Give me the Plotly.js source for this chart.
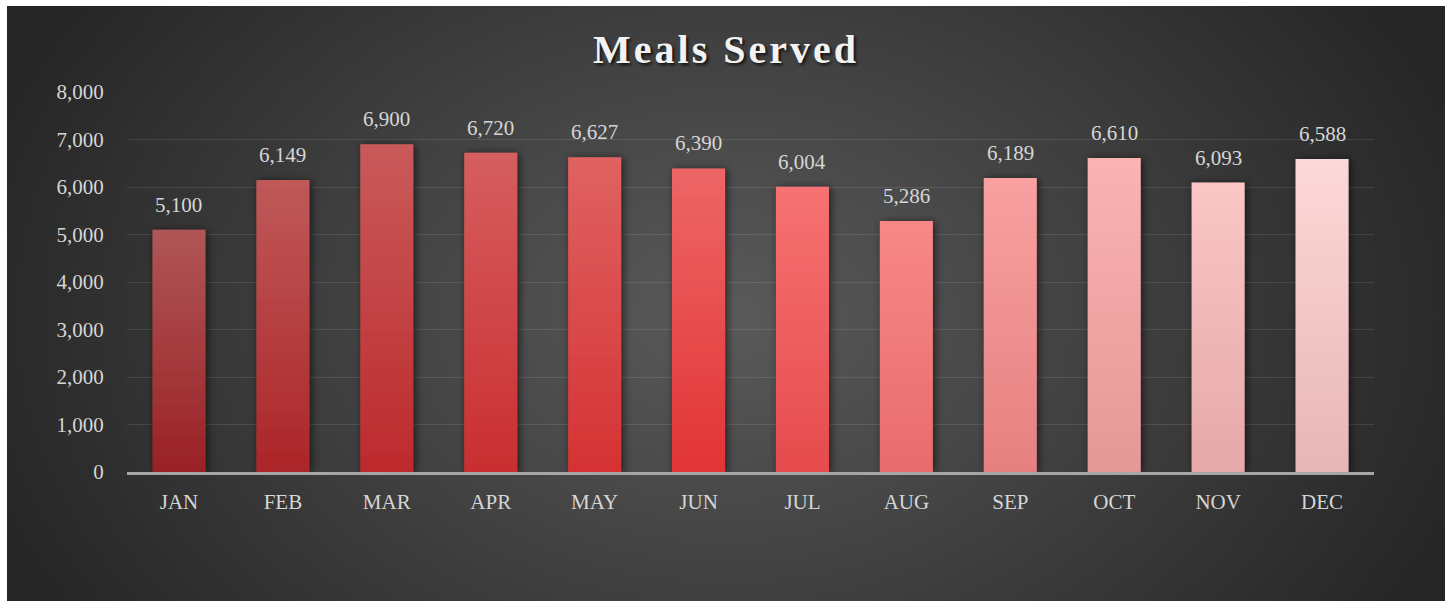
<!DOCTYPE html>
<html><head><meta charset="utf-8">
<script src="https://cdn.plot.ly/plotly-3.0.1.min.js"></script>
<style>
html,body{margin:0;padding:0;background:#ffffff;}
#chart{position:absolute;left:7px;top:6px;width:1438px;height:595px;
background:radial-gradient(ellipse 780px 560px at 50% 52%, #5a5a5a 0%, #262626 100%);}
</style></head><body><div id="chart"></div>
<script>
const months = ['JAN','FEB','MAR','APR','MAY','JUN','JUL','AUG','SEP','OCT','NOV','DEC'];
const meals = [5100, 6149, 6900, 6720, 6627, 6390, 6004, 5286, 6189, 6610, 6093, 6588];
const yTicks = [0, 1000, 2000, 3000, 4000, 5000, 6000, 7000, 8000];

const topColors = ['#b05656','#c05959','#c95a5a','#d65e5e','#e06262','#ee6666','#f77272','#f88888','#f9a0a0','#fbb3b3','#fac6c6','#fdd8d8'];
const bottomColors = ['#9a2125','#ab2528','#bd2a2d','#ca2e31','#d53233','#e23436','#e64b4d','#e86b6d','#e68080','#e59797','#e6a8a8','#e7b6b6'];

const FONT = 'Liberation Serif, Times New Roman, serif';
const LABEL = '#d6d6d6';

const trace = {
  type: 'bar',
  x: months,
  y: meals,
  marker: {color: topColors, line: {width: 0}},
  hoverinfo: 'skip'
};

const annotations = months.map((m, i) => ({
  x: m, y: meals[i], xref: 'x', yref: 'y',
  text: meals[i].toLocaleString('en-US'),
  showarrow: false, yanchor: 'bottom', yshift: 11,
  font: {family: FONT, size: 21, color: LABEL}
}));

const layout = {
  width: 1438, height: 595,
  paper_bgcolor: 'rgba(0,0,0,0)',
  plot_bgcolor: 'rgba(0,0,0,0)',
  margin: {l: 120, r: 71, t: 86, b: 129},
  bargap: 0.49,
  showlegend: false,
  title: {
    text: 'Meals Served',
    x: 0.5, xanchor: 'center',
    y: 0.928, yanchor: 'middle',
    font: {family: FONT, size: 40, color: '#f2f2f2', weight: 'bold',
           shadow: '2px 2px 3px rgba(0,0,0,0.75)'}
  },
  xaxis: {
    showgrid: false, showline: true, linecolor: '#a6a6a6', linewidth: 2.5,
    ticks: 'outside', ticklen: 9, tickcolor: 'rgba(0,0,0,0)',
    tickfont: {family: FONT, size: 21, color: LABEL},
    fixedrange: true
  },
  yaxis: {
    range: [0, 8000], tickvals: yTicks,
    ticktext: yTicks.map(v => v.toLocaleString('en-US')),
    showgrid: true, gridcolor: 'rgba(255,255,255,0.1)', gridwidth: 1,
    zeroline: false, showline: false,
    ticks: 'outside', ticklen: 18, tickcolor: 'rgba(0,0,0,0)',
    tickfont: {family: FONT, size: 21, color: LABEL},
    fixedrange: true
  },
  annotations: annotations
};

Plotly.newPlot('chart', [trace], layout, {staticPlot: true, displayModeBar: false}).then(gd => {
  const ns = 'http://www.w3.org/2000/svg';
  const svg = gd.querySelector('svg.main-svg');
  let defs = svg.querySelector('defs');
  if (!defs) { defs = document.createElementNS(ns, 'defs'); svg.insertBefore(defs, svg.firstChild); }
  const f = document.createElementNS(ns, 'filter');
  f.setAttribute('id', 'barShadow');
  f.setAttribute('x', '-40%'); f.setAttribute('y', '-10%');
  f.setAttribute('width', '180%'); f.setAttribute('height', '120%');
  const ds = document.createElementNS(ns, 'feDropShadow');
  ds.setAttribute('dx', '2'); ds.setAttribute('dy', '1');
  ds.setAttribute('stdDeviation', '4');
  ds.setAttribute('flood-color', '#000'); ds.setAttribute('flood-opacity', '0.6');
  f.appendChild(ds); defs.appendChild(f);
  const paths = gd.querySelectorAll('.barlayer .point path');
  paths.forEach((p, i) => {
    const g = document.createElementNS(ns, 'linearGradient');
    g.setAttribute('id', 'barGrad' + i);
    g.setAttribute('x1', '0'); g.setAttribute('y1', '0');
    g.setAttribute('x2', '0'); g.setAttribute('y2', '1');
    const s1 = document.createElementNS(ns, 'stop');
    s1.setAttribute('offset', '0'); s1.setAttribute('stop-color', topColors[i]);
    const s2 = document.createElementNS(ns, 'stop');
    s2.setAttribute('offset', '1'); s2.setAttribute('stop-color', bottomColors[i]);
    g.appendChild(s1); g.appendChild(s2); defs.appendChild(g);
    p.style.fill = 'url(#barGrad' + i + ')';
    p.setAttribute('filter', 'url(#barShadow)');
  });
  const t = gd.querySelector('.gtitle');
  if (t) t.style.letterSpacing = '3px';
});
</script>
</body></html>
